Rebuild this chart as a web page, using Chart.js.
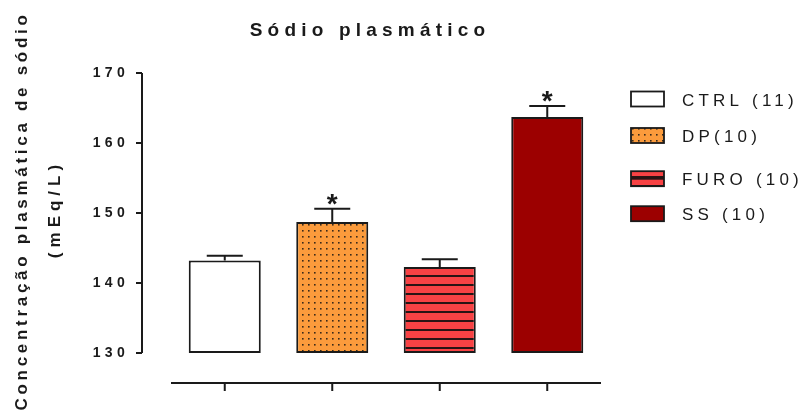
<!DOCTYPE html>
<html>
<head>
<meta charset="utf-8">
<script src="https://cdn.jsdelivr.net/npm/chart.js@4.4.1/dist/chart.umd.min.js"></script>
<style>
  html, body { margin: 0; background: #fff; }
  #wrap { width: 800px; height: 417px; }
</style>
</head>
<body>
<div id="wrap"><canvas id="sodioChart"></canvas></div>
<script>
// grupos experimentais, média e EPM do sódio plasmático (mEq/L)
const groups = ['CTRL (11)', 'DP(10)', 'FURO (10)', 'SS (10)'];
const means = [143.2, 148.7, 142.3, 163.7];
const sem = [0.7, 1.9, 1.1, 1.6];
const stars = ['', '*', '', '*'];
const yTicks = [130, 140, 150, 160, 170];

const FONT = '"Liberation Sans", Arial, Helvetica, sans-serif';
const INK = '#1a1a1a';

function makePattern(w, h, paint) {
  const c = document.createElement('canvas');
  c.width = w; c.height = h;
  paint(c.getContext('2d'));
  return c.getContext('2d').createPattern(c, 'repeat');
}

// DP: laranja pontilhado
const dotFill = makePattern(6, 6, g => {
  g.fillStyle = '#fb9b3c'; g.fillRect(0, 0, 6, 6);
  g.fillStyle = '#3a2a1a'; g.fillRect(2, 2, 1.6, 1.6);
});
// FURO: vermelho com listras horizontais
const stripeFill = makePattern(4, 9, g => {
  g.fillStyle = '#f84244'; g.fillRect(0, 0, 4, 9);
  g.fillStyle = '#2a1414'; g.fillRect(0, 5, 4, 2);
});

const fills = ['#ffffff', dotFill, stripeFill, '#9c0000'];

const decor = {
  id: 'decor',
  beforeDraw(chart) {
    chart.ctx.letterSpacing = '4.3px';
  },
  afterDatasetsDraw(chart) {
    const { ctx, scales: { x, y } } = chart;
    ctx.save();
    ctx.letterSpacing = '0px';
    ctx.strokeStyle = INK;
    ctx.lineWidth = 2;
    means.forEach((m, i) => {
      const cx = x.getPixelForValue(i);
      const top = y.getPixelForValue(m);
      const cap = y.getPixelForValue(m + sem[i]);
      ctx.beginPath();
      ctx.moveTo(cx, top); ctx.lineTo(cx, cap);
      ctx.moveTo(cx - 18, cap); ctx.lineTo(cx + 18, cap);
      ctx.stroke();
      if (stars[i]) {
        ctx.fillStyle = INK;
        ctx.font = 'bold 28px ' + FONT;
        ctx.textAlign = 'center';
        ctx.fillText(stars[i], cx, cap + 4);
      }
    });
    ctx.restore();
  },
  afterDraw(chart) {
    const { ctx, chartArea: a, scales: { x, y } } = chart;
    ctx.save();
    ctx.strokeStyle = INK;
    ctx.lineWidth = 2;

    // eixo Y deslocado para a esquerda
    const ax = a.left - 29;
    ctx.beginPath();
    ctx.moveTo(ax, y.getPixelForValue(yTicks[yTicks.length - 1]));
    ctx.lineTo(ax, y.getPixelForValue(yTicks[0]));
    yTicks.forEach(v => {
      const py = y.getPixelForValue(v);
      ctx.moveTo(ax - 6, py); ctx.lineTo(ax, py);
    });
    // eixo X separado abaixo das barras
    const bx = a.bottom + 30;
    ctx.moveTo(a.left, bx); ctx.lineTo(a.right, bx);
    groups.forEach((g, i) => {
      const px = x.getPixelForValue(i);
      ctx.moveTo(px, bx); ctx.lineTo(px, bx + 8);
    });
    ctx.stroke();

    ctx.fillStyle = INK;
    // título
    ctx.font = 'bold 19px ' + FONT;
    ctx.letterSpacing = '5.2px';
    ctx.textAlign = 'center';
    ctx.fillText('Sódio plasmático', 370, 36);

    // título do eixo Y
    ctx.save();
    ctx.translate(27, 213);
    ctx.rotate(-Math.PI / 2);
    ctx.font = 'bold 17px ' + FONT;
    ctx.letterSpacing = '3.7px';
    ctx.fillText('Concentração plasmática de sódio', 2, 0);
    ctx.restore();
    ctx.save();
    ctx.translate(60, 211);
    ctx.rotate(-Math.PI / 2);
    ctx.font = 'bold 17px ' + FONT;
    ctx.letterSpacing = '5px';
    ctx.fillText('(mEq/L)', 2, 0);
    ctx.restore();

    // legenda
    const rows = [99, 135.5, 178.7, 213.7];
    ctx.font = '17px ' + FONT;
    ctx.letterSpacing = '4.2px';
    ctx.textAlign = 'left';
    groups.forEach((g, i) => {
      const by = rows[i] - 7.5;
      ctx.fillStyle = fills[i];
      ctx.fillRect(631, by, 33, 15);
      if (i === 2) {
        ctx.fillStyle = '#2a1414';
        ctx.fillRect(631, by + 6.5, 33, 2);
      }
      ctx.lineWidth = 1.8;
      ctx.strokeRect(631, by, 33, 15);
      ctx.fillStyle = INK;
      ctx.fillText(g, 682, rows[i] + 6.5);
    });
    ctx.restore();
    ctx.letterSpacing = '0px';
  }
};

new Chart(document.getElementById('sodioChart'), {
  type: 'bar',
  data: {
    labels: groups,
    datasets: [{
      data: means,
      base: yTicks[0],
      backgroundColor: fills,
      borderColor: INK,
      borderWidth: 2,
      borderSkipped: false,
      clip: false,
      barPercentage: 0.67,
      categoryPercentage: 1
    }]
  },
  options: {
    responsive: true,
    maintainAspectRatio: false,
    animation: false,
    layout: { padding: { left: 0, right: 199, top: 73, bottom: 64 } },
    plugins: { legend: { display: false }, title: { display: false }, tooltip: { enabled: false } },
    scales: {
      x: { display: false, offset: true },
      y: {
        min: 130,
        max: 170,
        afterFit: s => { s.width = 171; },
        afterBuildTicks: s => { s.ticks = yTicks.map(v => ({ value: v })); },
        grid: { display: false, drawTicks: false },
        border: { display: false },
        ticks: { color: INK, padding: 42, font: { family: FONT, size: 14, weight: 'bold' } }
      }
    }
  },
  plugins: [decor]
});
</script>
</body>
</html>
